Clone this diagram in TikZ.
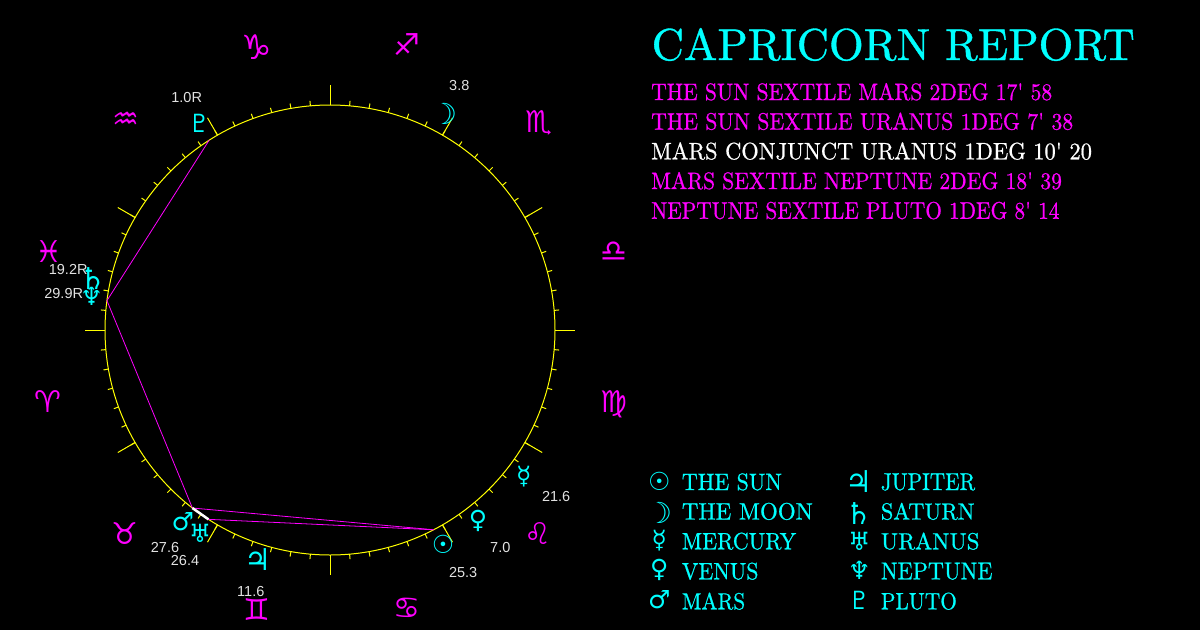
\documentclass[tikz,border=0pt]{standalone}
\usepackage{fontspec}
\usepackage{graphicx}
\newfontfamily\symf{DejaVu Sans}
\newfontfamily\labf{Liberation Sans}
\newfontfamily\tf{lmroman10-regular.otf}[FakeBold=0.8]
\definecolor{cy}{HTML}{00FFFF}
\definecolor{mg}{HTML}{FF00FF}
\definecolor{yl}{HTML}{FFFF00}
\definecolor{lb}{HTML}{E2E2E2}
\newcommand{\fitbox}[3]{\resizebox{#1pt}{#2pt}{\tf\fontsize{20}{20}\selectfont #3}}
\begin{document}
\begin{tikzpicture}[x=1pt,y=-1pt,
  zod/.style={text=mg, font=\symf\fontsize{30}{30}\selectfont, inner sep=0},
  pla/.style={text=cy, font=\symf\fontsize{#1}{#1}\selectfont, inner sep=0},
  pla/.default=25,
  lbl/.style={text=lb, font=\labf\fontsize{14.5}{14.5}\selectfont, inner sep=0},
  txt/.style={anchor=base west, inner sep=0},
  ring/.style={draw=yl, line width=1pt},
  asp/.style={draw=mg, line width=0.8pt},
  conj/.style={draw=white, line width=2.5pt}]
\useasboundingbox (0,0) rectangle (1200,630);
\fill[black] (0,0) rectangle (1200,630);
% wheel
\coordinate (C) at (330,330);
\draw[ring] (C) circle[radius=225];
\foreach \a in {0,5,...,355}
  \draw[ring] ({330+225*cos(\a)},{330-225*sin(\a)}) -- ({330+230*cos(\a)},{330-230*sin(\a)});
\foreach \a in {0,30,...,330}
  \draw[ring] ({330+225*cos(\a)},{330-225*sin(\a)}) -- ({330+245*cos(\a)},{330-245*sin(\a)});
% zodiac
\node[zod] (aries) at (48,402) {♈};
\node[zod] (taurus) at (125,533.3) {♉};
\node[zod] (gemini) at (256.7,609.3) {♊};
\node[zod] (cancer) at (407.3,608.3) {♋};
\node[zod] (leo) at (538.3,534) {♌};
\node[zod] (virgo) at (614,404) {♍};
\node[zod] (libra) at (614,252) {♎};
\node[zod] (scorpio) at (539.3,123.3) {♏};
\node[zod] (sagitt) at (407.3,45) {♐};
\node[zod, font=\symf\fontsize{34}{34}\selectfont] (capri) at (256.7,46.7) {♑};
\node[zod] (aquar) at (125.7,120.7) {♒};
\node[zod] (pisces) at (49,251.7) {♓};
% aspect points
\coordinate (pP) at ({330+225*cos(122.5)},{330-225*sin(122.5)});
\coordinate (pN) at ({330+225*cos(172.5)},{330-225*sin(172.5)});
\coordinate (pM) at ({330+225*cos(232.3)},{330-225*sin(232.3)});
\coordinate (pU) at ({330+225*cos(237.3)},{330-225*sin(237.3)});
\coordinate (pS) at ({330+225*cos(297.4)},{330-225*sin(297.4)});
\draw[asp] (pP) -- (pN);
\draw[asp] (pN) -- (pM);
\draw[asp] (pM) -- (pS);
\draw[asp] (pU) -- (pS);
\draw[conj] (pM) -- (pU);
% planets
\node[pla] (gPluto) at (199.3,123.7) {♇};
\node[pla=29] (gMoon) at (444,114.3) {☽};
\node[pla=30] (gSaturn) at (93.3,278.3) {♄};
\node[pla] (gNeptune) at (91.7,296) {♆};
\node[pla] (gMars) at (182.8,521.7) {♂};
\node[pla] (gUranus) at (200.2,533) {♅};
\node[pla=30] (gJupiter) at (257.8,560) {♃};
\node[pla] (gSun) at (443,544.7) {☉};
\node[pla] (gVenus) at (478,521) {♀};
\node[pla] (gMercury) at (523.8,477) {☿};
% degree labels
\node[lbl] (lPluto) at (186.7,98) {1.0R};
\node[lbl] (lMoon) at (459.3,85.5) {3.8};
\node[lbl] (lSaturn) at (68.2,269.2) {19.2R};
\node[lbl] (lNeptune) at (63.7,293.2) {29.9R};
\node[lbl] (lMars) at (165,547.8) {27.6};
\node[lbl] (lUranus) at (185,560.8) {26.4};
\node[lbl] (lJupiter) at (250.8,591.5) {11.6};
\node[lbl] (lSun) at (463.2,572.5) {25.3};
\node[lbl] (lVenus) at (500.3,547.5) {7.0};
\node[lbl] (lMercury) at (556.2,496.8) {21.6};
% title and aspects
\node[txt, text=cy] (title) at (651.5,60) {\fitbox{483}{32}{CAPRICORN REPORT}};
\node[txt, text=mg] (a1) at (651,100) {\fitbox{401}{17}{THE SUN SEXTILE MARS 2DEG 17\textquotesingle{} 58}};
\node[txt, text=mg] (a2) at (651,129.6) {\fitbox{422}{17}{THE SUN SEXTILE URANUS 1DEG 7\textquotesingle{} 38}};
\node[txt, text=white] (a3) at (651,159.3) {\fitbox{440.7}{17}{MARS CONJUNCT URANUS 1DEG 10\textquotesingle{} 20}};
\node[txt, text=mg] (a4) at (651,189) {\fitbox{410.7}{17}{MARS SEXTILE NEPTUNE 2DEG 18\textquotesingle{} 39}};
\node[txt, text=mg] (a5) at (651,218.8) {\fitbox{408.3}{17}{NEPTUNE SEXTILE PLUTO 1DEG 8\textquotesingle{} 14}};
% legend
\node[pla] (kSun) at (659.2,481.7) {☉};
\node[pla=29] (kMoon) at (659.2,512.5) {☽};
\node[pla] (kMercury) at (659.2,541) {☿};
\node[pla] (kVenus) at (659.2,570) {♀};
\node[pla] (kMars) at (659.2,600) {♂};
\node[pla=30] (kJupiter) at (859.2,482) {♃};
\node[pla=30] (kSaturn) at (859.2,513.7) {♄};
\node[pla] (kUranus) at (859.2,541) {♅};
\node[pla] (kNeptune) at (859.2,570) {♆};
\node[pla] (kPluto) at (859.2,600) {♇};
\node[txt, text=cy] (tSun) at (681.7,490) {\fitbox{100}{16.7}{THE SUN}};
\node[txt, text=cy] (tMoon) at (681.7,519.5) {\fitbox{131}{16.7}{THE MOON}};
\node[txt, text=cy] (tMercury) at (681.7,549.3) {\fitbox{114.3}{16.7}{MERCURY}};
\node[txt, text=cy] (tVenus) at (681.7,579.3) {\fitbox{76.6}{16.7}{VENUS}};
\node[txt, text=cy] (tMars) at (681.7,609.3) {\fitbox{63.3}{16.7}{MARS}};
\node[txt, text=cy] (tJupiter) at (880.7,490) {\fitbox{94.3}{16.7}{JUPITER}};
\node[txt, text=cy] (tSaturn) at (880.7,519.5) {\fitbox{93.6}{16.7}{SATURN}};
\node[txt, text=cy] (tUranus) at (880.7,549.3) {\fitbox{98.6}{16.7}{URANUS}};
\node[txt, text=cy] (tNeptune) at (880.7,579.3) {\fitbox{111.6}{16.7}{NEPTUNE}};
\node[txt, text=cy] (tPluto) at (880.7,609.3) {\fitbox{76}{16.7}{PLUTO}};
\end{tikzpicture}
\end{document}
